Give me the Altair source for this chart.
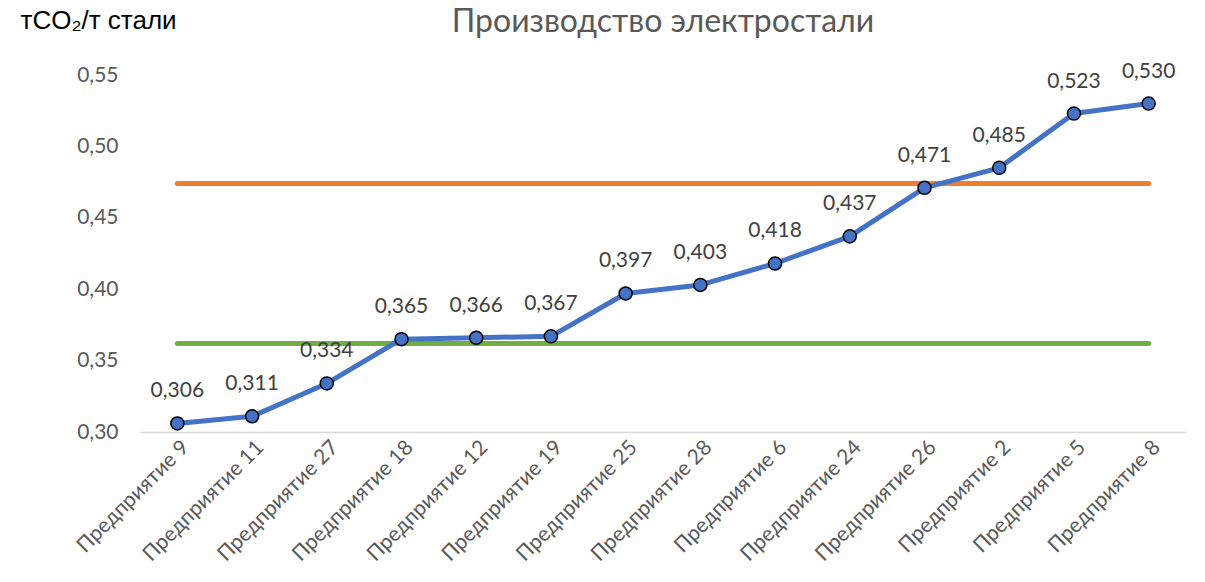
import altair as alt
import pandas as pd

# Emission intensity of electric steel production by plant
plants = [
    "Предприятие 9", "Предприятие 11", "Предприятие 27", "Предприятие 18",
    "Предприятие 12", "Предприятие 19", "Предприятие 25", "Предприятие 28",
    "Предприятие 6", "Предприятие 24", "Предприятие 26", "Предприятие 2",
    "Предприятие 5", "Предприятие 8",
]
intensity = [0.306, 0.311, 0.334, 0.365, 0.366, 0.367, 0.397, 0.403,
             0.418, 0.437, 0.471, 0.485, 0.523, 0.530]

# Reference levels drawn as horizontal lines across all plants
upper_level = 0.474
lower_level = 0.362

y_ticks = [0.30, 0.35, 0.40, 0.45, 0.50, 0.55]

df = pd.DataFrame({"plant": plants, "value": intensity})
df["label"] = df["value"].map(lambda v: f"{v:.3f}".replace(".", ","))
df["upper"] = upper_level
df["lower"] = lower_level

FONT = "Lato"
GRAY = "#595959"

x_enc = alt.X(
    "plant:N",
    sort=plants,
    scale=alt.Scale(paddingInner=0, paddingOuter=0.5),
    axis=alt.Axis(
        title=None, labelAngle=-45, labelAlign="right", labelBaseline="middle",
        labelFontSize=21, labelColor=GRAY, labelFont=FONT, labelPadding=12,
        labelOffset=8, ticks=False, domainColor="#D9D9D9", domainWidth=1.5,
        grid=False,
    ),
)
y_scale = alt.Scale(domain=[0.30, 0.55], nice=False, zero=False)

base = alt.Chart(df).encode(x=x_enc)

upper_line = base.mark_line(color="#ED7D31", strokeWidth=5, strokeCap="round").encode(
    y=alt.Y("upper:Q", scale=y_scale)
)
lower_line = base.mark_line(color="#70AD47", strokeWidth=5, strokeCap="round").encode(
    y=alt.Y("lower:Q", scale=y_scale)
)

series = base.mark_line(
    color="#4472C4", strokeWidth=5, strokeJoin="round", strokeCap="round",
    point=alt.OverlayMarkDef(filled=True, fill="#4472C4", stroke="black",
                             strokeWidth=1.5, size=170, opacity=1),
).encode(
    y=alt.Y(
        "value:Q", scale=y_scale,
        axis=alt.Axis(
            values=y_ticks, title="тCO₂/т стали", titleAngle=0, titleAlign="left",
            titleBaseline="middle", titleX=-120, titleY=-55, titleFontSize=26,
            titleFont="Liberation Sans", titleFontWeight="normal", titleColor="black",
            labelExpr="replace(format(datum.value, '.2f'), '.', ',')",
            labelFontSize=21, labelColor=GRAY, labelFont=FONT, labelPadding=22,
            ticks=False, domain=False, grid=False,
        ),
    )
)

labels = base.mark_text(
    dy=-32, fontSize=21, font=FONT, color="#404040", baseline="middle"
).encode(y=alt.Y("value:Q", scale=y_scale), text="label:N")

chart = (
    alt.layer(upper_line, lower_line, series, labels)
    .properties(
        width=1046, height=357,
        title=alt.TitleParams(
            "Производство электростали", anchor="middle", fontSize=32,
            font=FONT, fontWeight="normal", color=GRAY, offset=0, dy=32,
        ),
        autosize=alt.AutoSizeParams(type="none"),
        padding={"left": 140, "top": 75, "right": 19, "bottom": 150},
    )
    .configure(background="white")
    .configure_view(stroke="transparent", strokeWidth=0)
)

chart.save("out.html", embed_options={"renderer": "svg", "actions": False})
